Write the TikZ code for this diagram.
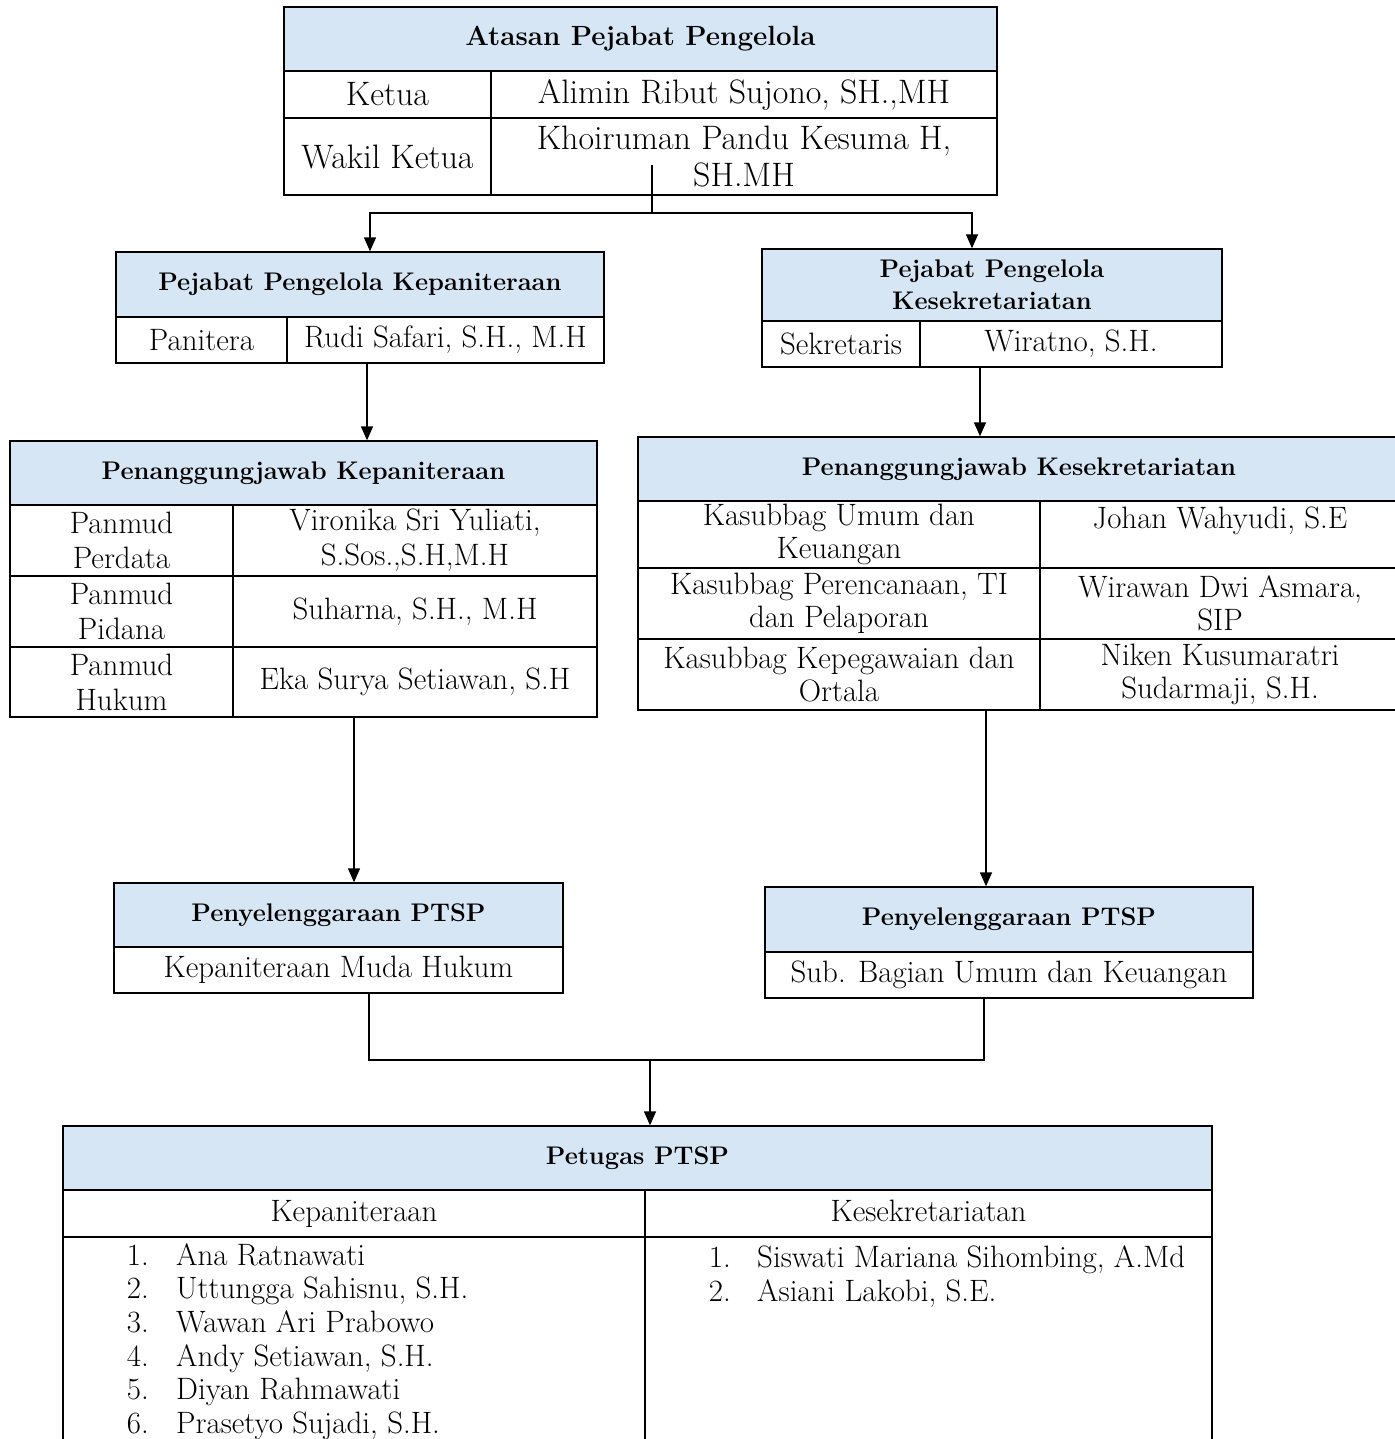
\documentclass[tikz,border=0pt]{standalone}
\usetikzlibrary{arrows.meta}
\definecolor{headblue}{RGB}{214,230,245}
\begin{document}
\begin{tikzpicture}[x=0.2mm,y=-0.2mm,
    every node/.style={font=\fontsize{17.6}{20}\selectfont},
    cellat/.style args={#1/#2/#3/#4}{minimum width={(#3-#1)*0.2mm}, minimum height={(#4-#2)*0.2mm}, at={({(#1+#3)/2},{(#2+#4)/2})}},
    cell/.style={draw, line width=0.8pt, inner sep=0pt, align=center},
    topcell/.style={cell, font=\fontsize{19.3}{21.5}\selectfont},
    sekcell/.style={cell, font=\fontsize{17.6}{18.8}\selectfont},
    head/.style={cell, fill=headblue, font=\fontsize{14.5}{18}\selectfont\bfseries},
    arr/.style={line width=0.8pt, -{Triangle[length=2.8mm,width=2.4mm]}},
    link/.style={line width=0.8pt}]
    \useasboundingbox (0,0) rectangle (1395,1439);
    \clip (0,0) rectangle (1395,1439);

    % Atasan Pejabat Pengelola
    \node[head, cellat=284/7/997/71, font=\fontsize{15.8}{19}\selectfont\bfseries] (atasan) {Atasan Pejabat Pengelola};
    \node[topcell, cellat=284/71/491/118] (ketua) {Ketua};
    \node[topcell, cellat=491/71/997/118] (ketuaname) {\raisebox{2pt}{Alimin Ribut Sujono, SH.,MH}};
    \node[topcell, cellat=284/118/491/195] (wakil) {Wakil Ketua};
    \node[topcell, cellat=491/118/997/195] (wakilname) {Khoiruman Pandu Kesuma H,\\SH.MH};

    % Pejabat Pengelola Kepaniteraan
    \node[head, cellat=116/252/604/317] (ppk) {Pejabat Pengelola Kepaniteraan};
    \node[cell, cellat=116/317/287/363] (panitera) {Panitera};
    \node[cell, cellat=287/317/604/363] (paniteraname) {\raisebox{2pt}{Rudi Safari, S.H., M.H}};

    % Pejabat Pengelola Kesekretariatan
    \node[head, cellat=762/249/1222/321] (pps) {Pejabat Pengelola\\Kesekretariatan};
    \node[cell, cellat=762/321/920/367] (sekretaris) {Sekretaris};
    \node[cell, cellat=920/321/1222/367] (sekretarisname) {Wiratno, S.H.};

    % Penanggungjawab Kepaniteraan
    \node[head, cellat=10/441/597/505] (pjk) {Penanggungjawab Kepaniteraan};
    \node[cell, cellat=10/505/233/576] (perdata) {Panmud\\Perdata};
    \node[cell, cellat=233/505/597/576] (perdataname) {Vironika Sri Yuliati,\\S.Sos.,S.H,M.H};
    \node[cell, cellat=10/576/233/647] (pidana) {Panmud\\Pidana};
    \node[cell, cellat=233/576/597/647] (pidananame) {Suharna, S.H., M.H};
    \node[cell, cellat=10/647/233/717] (hukum) {Panmud\\Hukum};
    \node[cell, cellat=233/647/597/717] (hukumname) {Eka Surya Setiawan, S.H};

    % Penanggungjawab Kesekretariatan
    \node[head, cellat=638/437/1400/501] (pjs) {Penanggungjawab Kesekretariatan};
    \node[sekcell, cellat=638/501/1040/568] (umum) {Kasubbag Umum dan\\Keuangan};
    \node[sekcell, cellat=1040/501/1400/568] (umumname) {Johan Wahyudi, S.E\\\phantom{X}};
    \node[sekcell, cellat=638/568/1040/639] (rencana) {Kasubbag Perencanaan, TI\\dan Pelaporan};
    \node[sekcell, cellat=1040/568/1400/639] (rencananame) {Wirawan Dwi Asmara,\\SIP};
    \node[sekcell, cellat=638/639/1040/710] (pegawai) {Kasubbag Kepegawaian dan\\Ortala};
    \node[sekcell, cellat=1040/639/1400/710] (pegawainame) {Niken Kusumaratri\\Sudarmaji, S.H.};

    % Penyelenggaraan PTSP
    \node[head, cellat=114/883/563/947] (ptspl) {Penyelenggaraan PTSP};
    \node[cell, cellat=114/947/563/993] (mudahukum) {Kepaniteraan Muda Hukum};
    \node[head, cellat=765/887/1253/952] (ptspr) {Penyelenggaraan PTSP};
    \node[cell, cellat=765/952/1253/998] (subumum) {Sub. Bagian Umum dan Keuangan};

    % Petugas PTSP
    \node[head, cellat=63/1126/1212/1190] (petugas) {Petugas PTSP};
    \node[cell, cellat=63/1190/645/1237] (kep) {Kepaniteraan};
    \node[cell, cellat=645/1190/1212/1237] (kes) {\raisebox{3pt}{Kesekretariatan}};
    \node[cell, cellat=63/1237/645/1470] (keplist) {};
    \node[cell, cellat=645/1237/1212/1470] (keslist) {};
    \foreach \i/\who in {1/Ana Ratnawati, 2/{Uttungga Sahisnu, S.H.}, 3/Wawan Ari Prabowo,
        4/{Andy Setiawan, S.H.}, 5/Diyan Rahmawati, 6/{Prasetyo Sujadi, S.H.}} {
        \node[anchor=base east] (kepno\i) at (155,{1265+(\i-1)*33.7}) {\i.};
        \node[anchor=base west] (kepname\i) at (170,{1265+(\i-1)*33.7}) {\who};
    }
    \foreach \i/\who in {1/{Siswati Mariana Sihombing, A.Md}, 2/{Asiani Lakobi, S.E.}} {
        \node[anchor=base east] (kesno\i) at (737,{1267+(\i-1)*34}) {\i.};
        \node[anchor=base west] (kesname\i) at (751,{1267+(\i-1)*34}) {\who};
    }

    % connectors
    \coordinate (top) at (652,165);
    \coordinate (split) at (652,213);
    \coordinate (xa) at (370,0);
    \coordinate (xb) at (972,0);
    \coordinate (xc) at (367,0);
    \coordinate (xd) at (980,0);
    \coordinate (xe) at (354,0);
    \coordinate (xf) at (986,0);
    \coordinate (xg) at (369,0);
    \coordinate (xh) at (984,0);
    \coordinate (join) at (650,1060);
    \draw[link] (top) -- (split);
    \draw[arr] (split) -| (ppk.north -| xa);
    \draw[arr] (split) -| (pps.north -| xb);
    \draw[arr] (paniteraname.south -| xc) -- (pjk.north -| xc);
    \draw[arr] (sekretarisname.south -| xd) -- (pjs.north -| xd);
    \draw[arr] (hukumname.south -| xe) -- (ptspl.north -| xe);
    \draw[arr] (pegawainame.south -| xf) -- (ptspr.north -| xf);
    \draw[link] (mudahukum.south -| xg) |- (join) -| (subumum.south -| xh);
    \draw[arr] (join) -- (petugas.north -| join);
\end{tikzpicture}
\end{document}
